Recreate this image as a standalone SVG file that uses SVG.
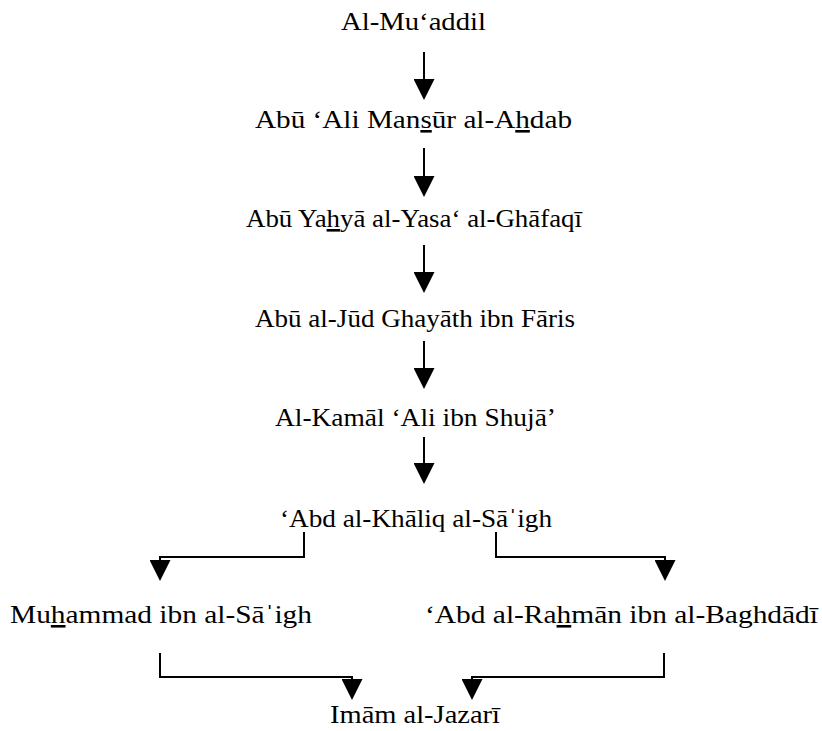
<svg xmlns="http://www.w3.org/2000/svg" width="822" height="731" viewBox="0 0 822 731">
<style>
text { font-family: "Liberation Serif", "Times New Roman", serif; font-size: 26px; fill: #000; }
.u { text-decoration: underline; }
.c { fill: none; stroke: #000; stroke-width: 2; marker-end: url(#ah); }
</style>
<defs>
<marker id="ah" viewBox="0 0 10 10" refX="0" refY="5" markerWidth="21" markerHeight="21" markerUnits="userSpaceOnUse" orient="auto">
<path d="M0,0 L10,5 L0,10 Z" fill="#000"/>
</marker>
</defs>
<rect width="822" height="731" fill="#fff"/>
<g id="connectors">
<path class="c" d="M424,52 V79"/>
<path class="c" d="M424,148 V176"/>
<path class="c" d="M424,245 V272"/>
<path class="c" d="M424,341 V368"/>
<path class="c" d="M424,437 V463"/>
<path class="c" d="M304,532 V557 H160 V560"/>
<path class="c" d="M496,532 V557 H665 V560"/>
<path class="c" d="M160,653 V677 H352 V679"/>
<path class="c" d="M664,653 V677 H472 V679"/>
</g>
<g id="n1"><text x="341" y="30" textLength="145" lengthAdjust="spacingAndGlyphs">Al-Mu‘addil</text></g>
<g id="n2"><text x="255" y="128" textLength="317" lengthAdjust="spacingAndGlyphs">Abū ‘Ali Man<tspan class="u">s</tspan>ūr al-A<tspan class="u">h</tspan>dab</text></g>
<g id="n3"><text x="246" y="227" textLength="336" lengthAdjust="spacingAndGlyphs">Abū Ya<tspan class="u">h</tspan>yā al-Yasa‘ al-Ghāfaqī</text></g>
<g id="n4"><text x="255" y="327" textLength="320" lengthAdjust="spacingAndGlyphs">Abū al-Jūd Ghayāth ibn Fāris</text></g>
<g id="n5"><text x="275" y="426" textLength="281" lengthAdjust="spacingAndGlyphs">Al-Kamāl ‘Ali ibn Shujā’</text></g>
<g id="n6"><text x="280" y="527" textLength="272" lengthAdjust="spacingAndGlyphs">‘Abd al-Khāliq al-Sāˈigh</text></g>
<g id="n7"><text x="10" y="623" textLength="302" lengthAdjust="spacingAndGlyphs">Mu<tspan class="u">h</tspan>ammad ibn al-Sāˈigh</text></g>
<g id="n8"><text x="425" y="623" textLength="393" lengthAdjust="spacingAndGlyphs">‘Abd al-Ra<tspan class="u">h</tspan>mān ibn al-Baghdādī</text></g>
<g id="n9"><text x="330" y="723" textLength="170" lengthAdjust="spacingAndGlyphs">Imām al-Jazarī</text></g>
</svg>
